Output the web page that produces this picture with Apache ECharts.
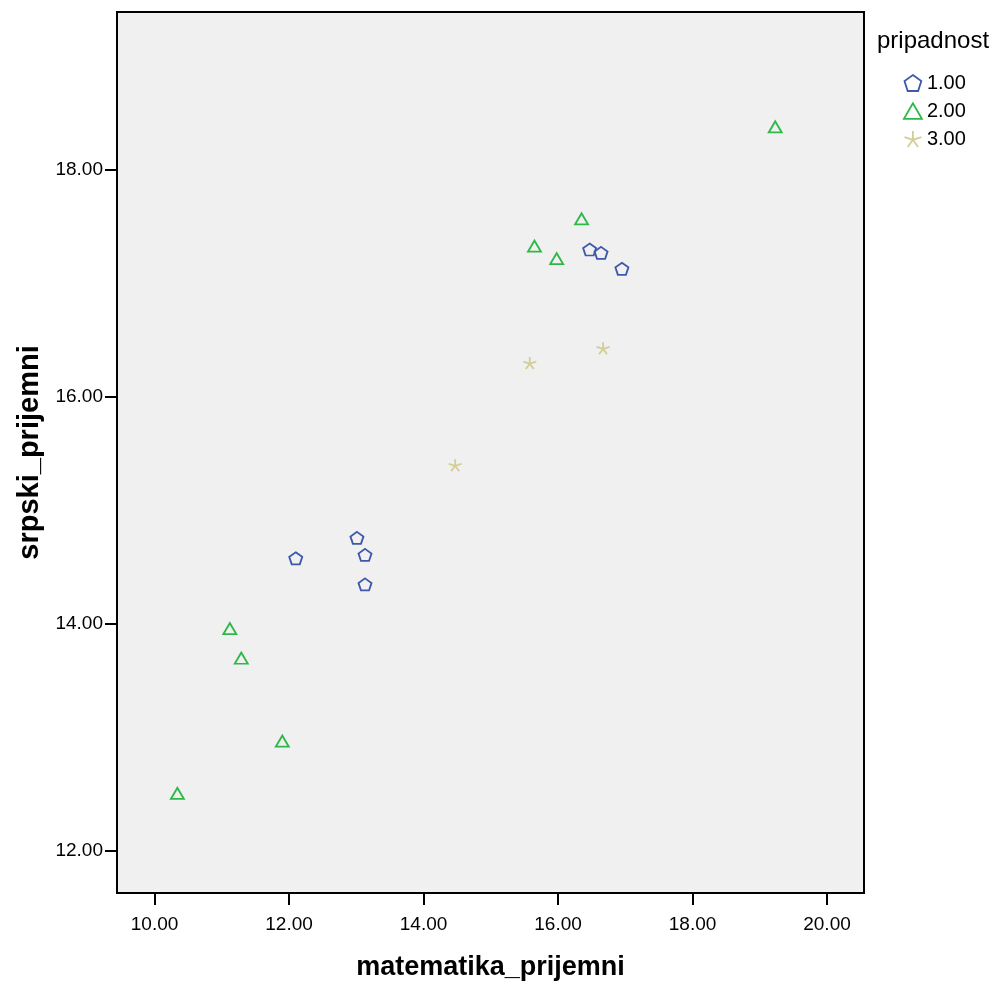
<!DOCTYPE html>
<html>
<head>
<meta charset="utf-8">
<script src="https://cdn.jsdelivr.net/npm/echarts@6/dist/echarts.min.js"></script>
<style>
html,body{margin:0;padding:0;background:#fff;}
#chart{width:994px;height:986px;}
</style>
</head>
<body>
<div id="chart"></div>
<script>
// ---- data ----
const groupNames = ['1.00', '2.00', '3.00'];
const xTicks = [10, 12, 14, 16, 18, 20];
const yTicks = [12, 14, 16, 18];

const g1x = [16.47, 16.64, 16.95, 12.10, 13.01, 13.13, 13.13];
const g1y = [17.30, 17.27, 17.13, 14.58, 14.76, 14.61, 14.35];

const g2x = [19.23, 16.35, 15.65, 15.98, 11.12, 11.29, 11.90, 10.34];
const g2y = [18.38, 17.57, 17.33, 17.22, 13.96, 13.70, 12.97, 12.51];

const g3x = [15.58, 16.67, 14.47];
const g3y = [16.30, 16.43, 15.40];

const xTitle = 'matematika_prijemni';
const yTitle = 'srpski_prijemni';
const legendTitle = 'pripadnost';

// ---- chart ----
const FONT = "'Liberation Sans', Arial, sans-serif";
const colors = ['#3E58AC', '#2EB848', '#D3CE97'];
const symbols = [
  'path://M0,-10L9.511,-3.09L5.878,8.09L-5.878,8.09L-9.511,-3.09Z',
  'path://M0,-10L8.66,5L-8.66,5Z',
  'path://M0,-10L0,0M9.511,-3.09L0,0M5.878,8.09L0,0M-5.878,8.09L0,0M-9.511,-3.09L0,0'
];
const sizes = [[13, 12], [13, 11], [13, 12]];

function zip(xs, ys) { return xs.map((x, i) => [x, ys[i]]); }
const groupData = [zip(g1x, g1y), zip(g2x, g2y), zip(g3x, g3y)];

const chart = echarts.init(document.getElementById('chart'), null, {renderer: 'canvas'});

const series = groupNames.map((name, i) => ({
  name: name,
  type: 'scatter',
  data: groupData[i],
  symbol: symbols[i],
  symbolSize: sizes[i],
  itemStyle: {
    color: 'rgba(0,0,0,0)',
    borderColor: colors[i],
    borderWidth: 1.8,
    opacity: 1
  },
  emphasis: {disabled: true},
  z: 5
}));

chart.setOption({
  animation: false,
  backgroundColor: '#ffffff',
  title: {
    text: legendTitle,
    left: 877,
    top: 29,
    padding: 0,
    textStyle: {fontFamily: FONT, fontSize: 24, fontWeight: 'normal', color: '#000'}
  },
  legend: {
    orient: 'vertical',
    left: 903,
    top: 73,
    padding: 0,
    itemWidth: 18,
    itemHeight: 16,
    itemGap: 8,
    data: groupNames.map((n, i) => ({name: n, icon: symbols[i]})),
    itemStyle: {borderWidth: 1.8},
    textStyle: {fontFamily: FONT, fontSize: 20, color: '#000'},
    selectedMode: false
  },
  grid: {
    left: 117,
    top: 12,
    right: 130,
    bottom: 92,
    show: true,
    backgroundColor: '#f0f0f0',
    borderColor: '#000',
    borderWidth: 2,
    containLabel: false
  },
  xAxis: {
    type: 'value',
    min: 9.442,
    max: 20.55,
    name: xTitle,
    nameLocation: 'middle',
    nameGap: 61,
    nameTextStyle: {fontFamily: FONT, fontSize: 27, fontWeight: 'bold', color: '#000'},
    axisLine: {show: true, onZero: false, lineStyle: {color: '#000', width: 2}},
    axisTick: {show: true, length: 12, customValues: xTicks, lineStyle: {color: '#000', width: 2}},
    axisLabel: {
      show: true, customValues: xTicks, margin: 22,
      formatter: v => Number(v).toFixed(2),
      fontFamily: FONT, fontSize: 19, color: '#000'
    },
    splitLine: {show: false}
  },
  yAxis: {
    type: 'value',
    min: 11.632,
    max: 19.392,
    name: yTitle,
    nameLocation: 'middle',
    nameGap: 72,
    nameTextStyle: {fontFamily: FONT, fontSize: 29, fontWeight: 'bold', color: '#000'},
    axisLine: {show: true, onZero: false, lineStyle: {color: '#000', width: 2}},
    axisTick: {show: true, length: 12, customValues: yTicks, lineStyle: {color: '#000', width: 2}},
    axisLabel: {
      show: true, customValues: yTicks, margin: 14,
      formatter: v => Number(v).toFixed(2),
      fontFamily: FONT, fontSize: 19, color: '#000'
    },
    splitLine: {show: false}
  },
  series: series
});
</script>
</body>
</html>
